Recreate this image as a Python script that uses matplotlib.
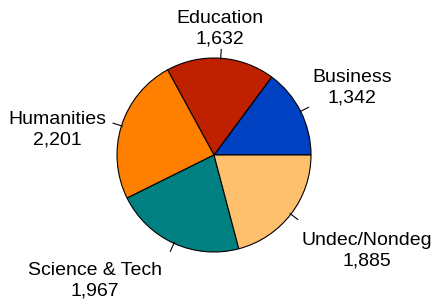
import numpy as np
import matplotlib
matplotlib.use("Agg")
import matplotlib.pyplot as plt

# data
names = ["Business", "Education", "Humanities", "Science & Tech", "Undec/Nondeg"]
counts = [1342, 1632, 2201, 1967, 1885]
colors = ["#0041C2", "#BF2000", "#FF8000", "#008080", "#FFC06E"]

# label centres in pixels (x, y from top) - layout only
label_px = [(352, 88), (220, 29), (57, 130), (95, 281), (367, 251)]

W, H = 435, 308
fig = plt.figure(figsize=(W / 100, H / 100), dpi=100)
fig.patch.set_facecolor("white")

cx, cy, r = 214, 155, 97  # pie centre/radius in px
ax = fig.add_axes([(cx - r) / W, (H - cy - r) / H, 2 * r / W, 2 * r / H])
wedges, _ = ax.pie(counts, colors=colors, startangle=0, counterclock=True,
                   wedgeprops=dict(edgecolor="black", linewidth=0.8))
ax.set_xlim(-1, 1)
ax.set_ylim(-1, 1)
ax.set_aspect("equal")
ax.axis("off")

# short leader ticks at mid-angle of each wedge
for w in wedges:
    ang = np.deg2rad((w.theta1 + w.theta2) / 2)
    ax.plot([np.cos(ang) * 0.99, np.cos(ang) * 1.09],
            [np.sin(ang) * 0.99, np.sin(ang) * 1.09],
            color="black", lw=0.8, clip_on=False)

for n, c, (px, py) in zip(names, counts, label_px):
    fig.text(px / W, 1 - py / H, f"{n}\n{c:,}", ha="center", va="center",
             fontsize=14, family="Liberation Sans", linespacing=1.3)

fig.savefig("out.png", dpi=100)
